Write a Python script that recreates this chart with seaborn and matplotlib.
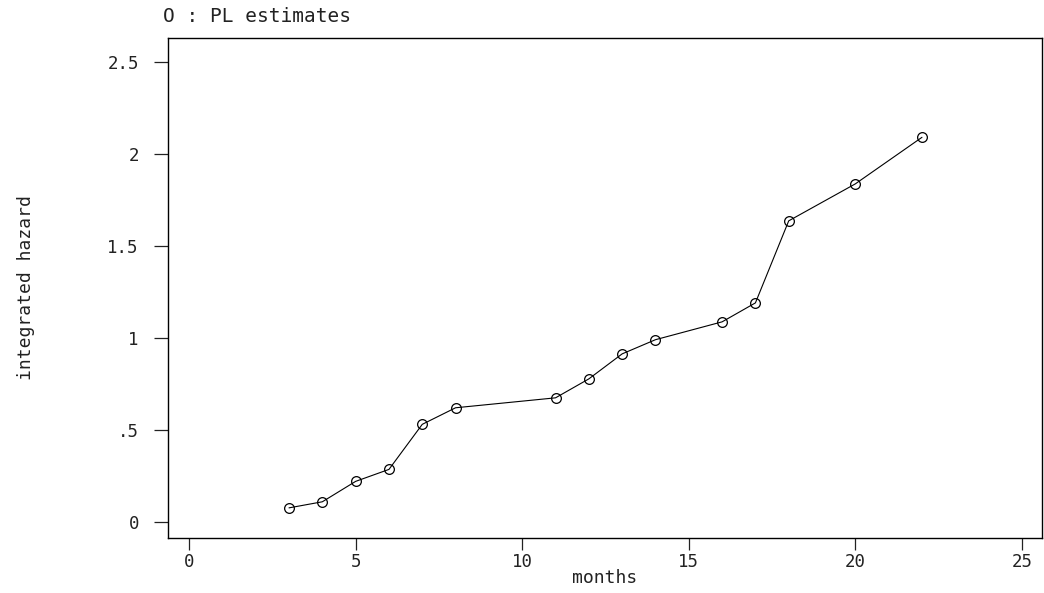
import pandas as pd
import seaborn as sns
import matplotlib
matplotlib.use('Agg')
import matplotlib.pyplot as plt

# values
months = [3, 4, 5, 6, 7, 8, 11, 12, 13, 14, 16, 17, 18, 20, 22]
hazard = [0.076, 0.109, 0.22, 0.285, 0.53, 0.62, 0.674, 0.777, 0.913,
          0.99, 1.087, 1.19, 1.636, 1.837, 2.09]
x_ticks = [0, 5, 10, 15, 20, 25]
y_ticks = [0, 0.5, 1, 1.5, 2, 2.5]
y_labels = ['0', '.5', '1', '1.5', '2', '2.5']

df = pd.DataFrame({'months': months, 'hazard': hazard})

sns.set_style('ticks')
plt.rcParams['font.family'] = ['DejaVu Sans Mono']

fig = plt.figure(figsize=(10.44, 5.93), dpi=100)
ax = fig.add_axes([0.161, 0.093, 0.837, 0.843])

sns.lineplot(x='months', y='hazard', data=df, ax=ax, color='black',
             linewidth=0.8, marker='o', markersize=7, markerfacecolor='none',
             markeredgecolor='black', markeredgewidth=0.9)

ax.set_xlim(-0.63, 25.6)
ax.set_ylim(-0.087, 2.63)
ax.set_xticks(x_ticks)
ax.set_yticks(y_ticks)
ax.set_yticklabels(y_labels)
ax.tick_params(axis='both', direction='out', width=0.9,
               labelsize=12.5, colors='#222222')
ax.tick_params(axis='y', length=10, pad=11)
ax.tick_params(axis='x', length=8.6, pad=2)
for s in ax.spines.values():
    s.set_visible(True)
    s.set_color('black')
    s.set_linewidth(1.0)

ax.set_xlabel('months', fontsize=13, labelpad=-1, color='#222222')
ax.set_ylabel('integrated hazard', fontsize=13, labelpad=52, color='#222222')
fig.text(0.156, 0.956, 'O : PL estimates', fontsize=14, color='#222222',
         ha='left', va='bottom')

fig.savefig('out.png', dpi=100)
